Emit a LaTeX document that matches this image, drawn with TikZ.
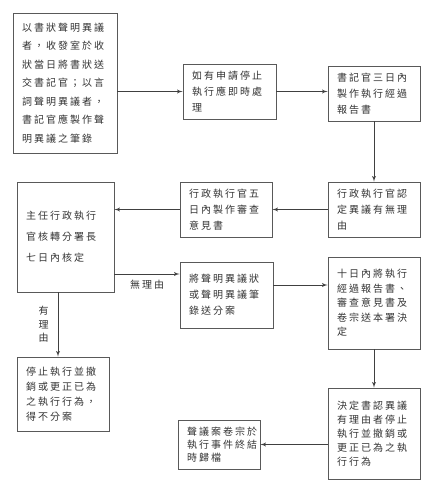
\documentclass[tikz,border=0pt]{standalone}
\usepackage{fontspec}
\usepackage{tikz}
\usetikzlibrary{arrows}
\newfontfamily\cjk[LetterSpace=20]{Noto Sans CJK TC}

\begin{document}
\begin{tikzpicture}
		[x=1pt,y=-1pt,auto=center,
		box/.style={draw=black!65,line width=0.9pt,text=black!80,inner xsep=9pt,inner ysep=0pt,align=left,font=\cjk\fontsize{10}{16}\selectfont},
		lbl/.style={text=black!80,inner sep=1pt,align=center,font=\cjk\fontsize{10}{13.5}\selectfont},
		edge/.style={->,> = latex',draw=black!75,line width=0.9pt}]
		\useasboundingbox (0,0) rectangle (436,500);
		\node[box,text width=86pt,minimum height=140pt,font=\cjk\fontsize{10}{18.5}\selectfont] (n1) at (65,83) {以書狀聲明異議\\者，收發室於收\\狀當日將書狀送\\交書記官；以言\\詞聲明異議者，\\書記官應製作聲\\明異議之筆錄};
		\node[box,text width=75pt,minimum height=55pt] (n2) at (229.5,91.5) {如有申請停止\\執行應即時處\\理};
		\node[box,text width=74pt,minimum height=55pt] (n3) at (374,93.5) {書記官三日內\\製作執行經過\\報告書};
		\node[box,text width=74pt,minimum height=55pt] (n4) at (374,209.5) {行政執行官認\\定異議有無理\\由};
		\node[box,text width=74pt,minimum height=55pt] (n5) at (226,209.5) {行政執行官五\\日內製作審查\\意見書};
		\node[box,text width=79pt,minimum height=110pt,font=\cjk\fontsize{10}{21}\selectfont] (n6) at (65.5,237) {主任行政執行\\官核轉分署長\\七日內核定};
		\node[box,text width=75pt,minimum height=66pt] (n7) at (226.5,295) {將聲明異議狀\\或聲明異議筆\\錄送分案};
		\node[box,text width=74pt,minimum height=92pt,font=\cjk\fontsize{10}{14.5}\selectfont] (n8) at (374,303) {十日內將執行\\經過報告書、\\審查意見書及\\卷宗送本署決\\定};
		\node[box,text width=74pt,minimum height=74pt,font=\cjk\fontsize{10}{15}\selectfont] (n9) at (63,394) {停止執行並撤\\銷或更正已為\\之執行行為，\\得不分案};
		\node[box,text width=74pt,minimum height=91pt,font=\cjk\fontsize{10}{14}\selectfont] (n10) at (374,433.5) {決定書認異議\\有理由者停止\\執行並撤銷或\\更正已為之執\\行行為};
		\node[box,text width=64pt,minimum height=49pt,font=\cjk\fontsize{10}{13}\selectfont] (n11) at (219,444.5) {聲議案卷宗於\\執行事件終結\\時歸檔};
		
		\draw[edge] (n1.east |- n2.west) -- (n2.west);
		\draw[edge] (n2.east) -- (n2.east -| n3.west);
		\draw[edge] (n3) -- (n4);
		\draw[edge] (n4) -- (n5);
		\draw[edge] (n5.west) -- (n5.west -| n6.east);
		\draw[edge] ([yshift=21pt]n7.west -| n6.east) -- ([yshift=21pt]n7.west) node[lbl,midway,below=5pt] (lno) {無理由};
		\draw[edge] ([xshift=-5pt]n9.north |- n6.south) -- ([xshift=-5pt]n9.north) node[lbl,midway,left=8pt] (lyes) {有\\理\\由};
		\draw[edge] ([yshift=10pt]n7.east) -- ([yshift=10pt]n7.east -| n8.west);
		\draw[edge] (n8) -- (n10);
		\draw[edge] (n10.west |- n11.east) -- (n11.east);
		\end{tikzpicture}
\end{document}
